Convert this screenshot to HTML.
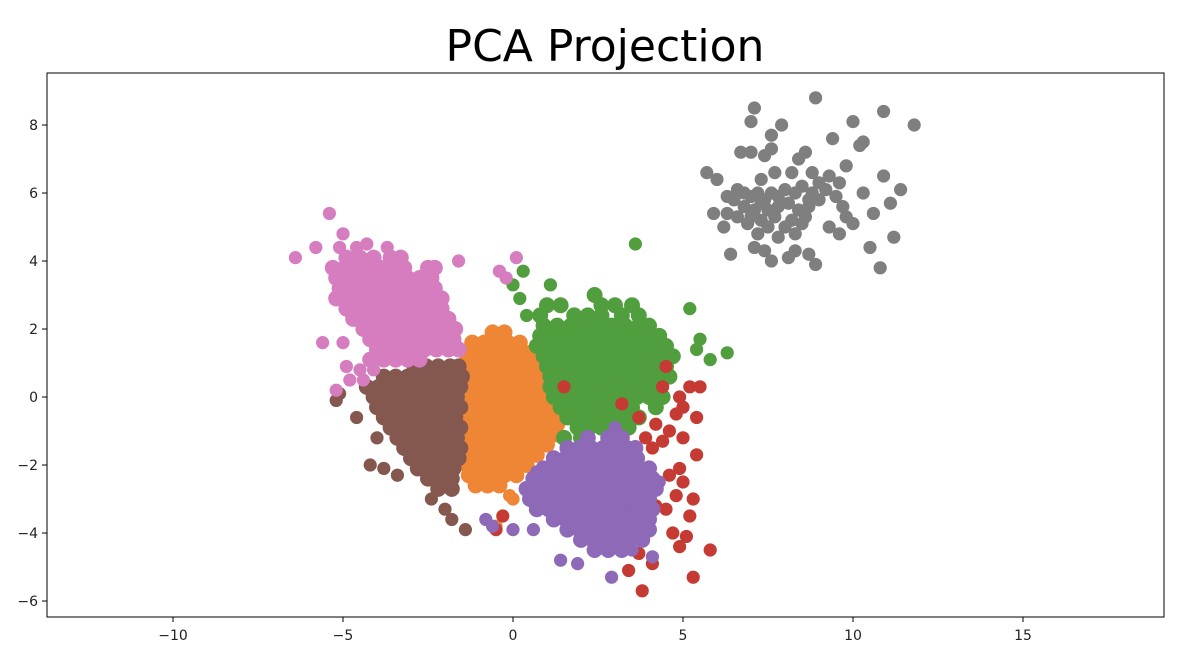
<!DOCTYPE html>
<html><head><meta charset="utf-8"><style>
body{margin:0;background:#fff;}
svg{display:block;font-family:"DejaVu Sans","Liberation Sans",sans-serif;}
</style></head><body>
<svg id="chart" width="1182" height="672" viewBox="0 0 1182 672">
<rect width="1182" height="672" fill="#fff"/>
<text x="605" y="61" font-size="44" text-anchor="middle" fill="#000">PCA Projection</text>
<g id="marks"></g>
<rect x="47" y="73" width="1117" height="544" fill="none" stroke="#000" stroke-width="1"/>
<g id="axes"></g>
</svg>
<script>
const xTicks=[-10,-5,0,5,10,15];
const yTicks=[-6,-4,-2,0,2,4,6,8];
const seriesNames=["orange","green","red","purple","brown","pink","gray"];
const seriesColors=["#EF8636","#519E3E","#C53A32","#8D69B8","#84584E","#D57DBF","#7F7F7F"];
function rowPts(y,xs){return xs.map(x=>[x,y]);}
const orangeCore=[].concat(
rowPts(1.9,[-0.6,-0.25]),rowPts(1.6,[-1.2,-0.85,-0.5,-0.15,0.2]),rowPts(1.3,[-1.3,-0.95,-0.6,-0.25,0.1,0.5]),
rowPts(1.0,[-1.4,-1.05,-0.7,-0.35,0,0.35,0.7]),rowPts(0.7,[-1.5,-1.15,-0.8,-0.45,-0.1,0.25,0.6,0.8]),
rowPts(0.4,[-1.45,-1.1,-0.75,-0.4,-0.05,0.3,0.65,0.9]),rowPts(0.1,[-1.5,-1.15,-0.8,-0.45,-0.1,0.25,0.6,0.9]),
rowPts(-0.2,[-1.5,-1.15,-0.8,-0.45,-0.1,0.25,0.6,0.95]),rowPts(-0.5,[-1.5,-1.15,-0.8,-0.45,-0.1,0.25,0.6,0.95,1.2]),
rowPts(-0.8,[-1.5,-1.15,-0.8,-0.45,-0.1,0.25,0.6,0.95,1.3]),rowPts(-1.1,[-1.5,-1.15,-0.8,-0.45,-0.1,0.25,0.6,0.95,1.3]),
rowPts(-1.4,[-1.45,-1.1,-0.75,-0.4,-0.05,0.3,0.65,1.0]),rowPts(-1.7,[-1.4,-1.05,-0.7,-0.35,0,0.35,0.7]),
rowPts(-2.0,[-1.35,-1.0,-0.65,-0.3,0.05,0.4]),rowPts(-2.3,[-1.3,-0.95,-0.6,-0.25,0.1]),rowPts(-2.6,[-1.1,-0.75,-0.4]));
const orangeOut=[[-0.1,-2.9],[0.0,-3.0],[-0.5,-3.8]];
const greenCore=[].concat(
rowPts(3.0,[2.4]),rowPts(2.7,[1.0,1.4,2.6,3.0,3.5]),rowPts(2.4,[0.8,1.8,2.2,2.6,3.2,3.7]),
rowPts(2.1,[0.9,1.3,1.7,2.1,2.5,2.9,3.3,3.7,4.0]),rowPts(1.8,[0.8,1.15,1.5,1.85,2.2,2.55,2.9,3.25,3.6,3.95,4.3]),
rowPts(1.5,[0.7,1.05,1.4,1.75,2.1,2.45,2.8,3.15,3.5,3.85,4.2,4.5]),rowPts(1.2,[0.9,1.25,1.6,1.95,2.3,2.65,3.0,3.35,3.7,4.05,4.4,4.7]),
rowPts(0.9,[1.0,1.35,1.7,2.05,2.4,2.75,3.1,3.45,3.8,4.15,4.5]),rowPts(0.6,[1.1,1.45,1.8,2.15,2.5,2.85,3.2,3.55,3.9,4.25,4.6]),
rowPts(0.3,[1.1,1.45,1.8,2.15,2.5,2.85,3.2,3.55,3.9,4.3]),rowPts(0.0,[1.2,1.55,1.9,2.25,2.6,2.95,3.3,3.65,4.0,4.4]),
rowPts(-0.3,[1.4,1.75,2.1,2.45,2.8,3.15,3.5,4.2]),rowPts(-0.6,[1.6,1.95,2.3,2.65,3.0,3.35,3.7]),
rowPts(-0.9,[1.9,2.25,2.6,3.0,3.4]),rowPts(-1.2,[1.5,2.0]));
const greenOut=[[3.6,4.5],[0.3,3.7],[0.0,3.3],[0.2,2.9],[0.4,2.4],[1.1,3.3],[5.2,2.6],[5.5,1.7],[6.3,1.3],[5.8,1.1],[5.4,1.4]];
const redCore=[];
const redOut=[[1.5,0.3],[4.5,0.9],[5.2,0.3],[5.5,0.3],[5.0,-0.3],[5.4,-0.6],[4.8,-0.5],[3.7,-0.6],[4.2,-0.8],[4.6,-1.0],[5.0,-1.2],[4.4,-1.3],[3.9,-1.2],[4.1,-1.5],[5.4,-1.7],[4.9,-2.1],[4.6,-2.3],[5.0,-2.5],[3.8,-2.3],[4.8,-2.9],[5.3,-3.0],[4.5,-3.3],[4.2,-3.2],[4.0,-3.6],[5.2,-3.5],[4.7,-4.0],[5.1,-4.1],[4.9,-4.4],[5.8,-4.5],[3.7,-4.6],[4.1,-4.9],[3.4,-5.1],[5.3,-5.3],[3.8,-5.7],[-0.3,-3.5],[-0.5,-3.9],[3.2,-0.2],[4.4,0.3],[4.9,0.0]];
const purpleCore=[].concat(
rowPts(-1.2,[2.2,2.8,3.2]),rowPts(-1.5,[1.6,1.95,2.3,2.65,3.0,3.35,3.6]),rowPts(-1.8,[1.2,1.55,1.9,2.25,2.6,2.95,3.3,3.65]),
rowPts(-2.1,[0.9,1.25,1.6,1.95,2.3,2.65,3.0,3.35,3.7,4.0]),rowPts(-2.4,[0.6,0.95,1.3,1.65,2.0,2.35,2.7,3.05,3.4,3.75,4.1]),
rowPts(-2.7,[0.4,0.75,1.1,1.45,1.8,2.15,2.5,2.85,3.2,3.55,3.9,4.2]),rowPts(-3.0,[0.5,0.85,1.2,1.55,1.9,2.25,2.6,2.95,3.3,3.65,4.0]),
rowPts(-3.3,[0.7,1.05,1.4,1.75,2.1,2.45,2.8,3.15,3.5,3.85,4.1]),rowPts(-3.6,[1.2,1.55,1.9,2.25,2.6,2.95,3.3,3.65,4.0]),
rowPts(-3.9,[1.6,1.95,2.3,2.65,3.0,3.35,3.7,4.0]),rowPts(-4.2,[2.0,2.35,2.7,3.05,3.4,3.8]),rowPts(-4.5,[2.4,2.8,3.2]));
const purpleOut=[[-0.8,-3.6],[-0.6,-3.8],[0.0,-3.9],[0.6,-3.9],[1.4,-4.8],[1.9,-4.9],[2.9,-5.3],[3.5,-4.5],[4.1,-4.7],[0.7,-2.2],[3.0,-0.9],[4.3,-2.5]];
const brownCore=[].concat(
rowPts(0.9,[-2.9,-2.55,-2.2,-1.85,-1.6]),rowPts(0.6,[-3.8,-3.45,-3.1,-2.75,-2.4,-2.05,-1.7,-1.5]),
rowPts(0.3,[-4.3,-3.95,-3.6,-3.25,-2.9,-2.55,-2.2,-1.85,-1.55]),rowPts(0.0,[-4.1,-3.75,-3.4,-3.05,-2.7,-2.35,-2.0,-1.65]),
rowPts(-0.3,[-4.0,-3.65,-3.3,-2.95,-2.6,-2.25,-1.9,-1.55]),rowPts(-0.6,[-3.8,-3.45,-3.1,-2.75,-2.4,-2.05,-1.7]),
rowPts(-0.9,[-3.6,-3.25,-2.9,-2.55,-2.2,-1.85,-1.55]),rowPts(-1.2,[-3.4,-3.05,-2.7,-2.35,-2.0,-1.65]),
rowPts(-1.5,[-3.2,-2.85,-2.5,-2.15,-1.8,-1.55]),rowPts(-1.8,[-3.0,-2.65,-2.3,-1.95,-1.6]),
rowPts(-2.1,[-2.8,-2.45,-2.1,-1.75]),rowPts(-2.4,[-2.5,-2.15,-1.8]),rowPts(-2.7,[-2.2,-1.8]));
const brownOut=[[-5.2,-0.1],[-5.1,0.1],[-4.6,-0.6],[-4.2,-2.0],[-3.8,-2.1],[-3.4,-2.3],[-2.4,-3.0],[-2.0,-3.3],[-1.8,-3.6],[-1.4,-3.9],[-4.0,-1.2]];
const pinkCore=[].concat(
rowPts(4.1,[-4.9,-4.5,-4.1,-3.6,-3.3]),rowPts(3.8,[-5.3,-4.95,-4.6,-4.25,-3.9,-3.55,-3.2,-2.5,-2.3]),
rowPts(3.5,[-5.2,-4.85,-4.5,-4.15,-3.8,-3.45,-3.1,-2.75,-2.4]),rowPts(3.2,[-5.1,-4.75,-4.4,-4.05,-3.7,-3.35,-3.0,-2.65,-2.3]),
rowPts(2.9,[-5.2,-4.85,-4.5,-4.15,-3.8,-3.45,-3.1,-2.75,-2.4,-2.1]),rowPts(2.6,[-4.9,-4.55,-4.2,-3.85,-3.5,-3.15,-2.8,-2.45,-2.1]),
rowPts(2.3,[-4.7,-4.35,-4.0,-3.65,-3.3,-2.95,-2.6,-2.25,-1.9]),rowPts(2.0,[-4.4,-4.05,-3.7,-3.35,-3.0,-2.65,-2.3,-1.95,-1.7]),
rowPts(1.7,[-4.2,-3.85,-3.5,-3.15,-2.8,-2.45,-2.1,-1.75]),rowPts(1.4,[-4.0,-3.65,-3.3,-2.95,-2.6,-2.25,-1.9,-1.6]),
rowPts(1.1,[-4.2,-3.8,-3.45,-3.1,-2.75]));
const pinkOut=[[-4.5,0.8],[-4.1,0.8],[-4.8,0.5],[-4.4,0.5],[-5.4,5.4],[-6.4,4.1],[-5.8,4.4],[-5.0,4.8],[-5.1,4.4],[-4.6,4.4],[-4.3,4.5],[-3.7,4.4],[-1.6,4.0],[-5.0,1.6],[-5.6,1.6],[-4.9,0.9],[0.1,4.1],[-0.4,3.7],[-0.2,3.5],[-5.2,0.2]];
const grayCore=[];
const grayOut=[[7.1,8.5],[8.9,8.8],[10.9,8.4],[11.8,8.0],[7.0,8.1],[7.6,7.7],[7.9,8.0],[10.0,8.1],[9.4,7.6],[10.3,7.5],[10.2,7.4],[6.7,7.2],[7.0,7.2],[7.4,7.1],[7.6,7.3],[8.4,7.0],[8.6,7.2],[9.8,6.8],[5.7,6.6],[6.0,6.4],[7.7,6.6],[8.2,6.6],[8.8,6.6],[9.3,6.5],[10.9,6.5],[11.4,6.1],[6.6,6.1],[6.8,6.0],[7.0,5.9],[7.2,6.0],[7.4,5.8],[7.6,6.0],[7.8,5.9],[8.0,6.1],[8.3,6.0],[8.5,6.2],[8.8,6.0],[9.0,6.3],[9.2,6.1],[9.5,5.9],[10.3,6.0],[6.5,5.8],[6.8,5.6],[7.1,5.5],[7.3,5.7],[7.5,5.5],[7.8,5.6],[8.1,5.7],[8.4,5.5],[8.7,5.6],[9.0,5.8],[5.9,5.4],[6.3,5.4],[6.6,5.3],[7.0,5.3],[7.3,5.2],[7.7,5.3],[8.2,5.2],[8.6,5.3],[9.8,5.3],[10.6,5.4],[11.1,5.7],[6.2,5.0],[6.9,5.1],[7.5,5.0],[8.0,5.0],[8.5,5.1],[9.3,5.0],[10.0,5.1],[7.2,4.8],[7.8,4.7],[8.3,4.8],[9.6,4.8],[11.2,4.7],[7.1,4.4],[7.4,4.3],[8.1,4.1],[8.3,4.3],[8.7,4.2],[8.9,3.9],[10.5,4.4],[10.8,3.8],[6.4,4.2],[7.6,4.0],[6.3,5.9],[7.3,6.4],[8.7,5.8],[9.6,6.3],[9.7,5.6]];
const coreSets=[orangeCore,greenCore,redCore,purpleCore,brownCore,pinkCore,grayCore];
const outSets=[orangeOut,greenOut,redOut,purpleOut,brownOut,pinkOut,grayOut];

const X0=-13.706,X1=19.147,Y0=-6.47,Y1=9.53;
const PL=47,PR=1164,PT=73,PB=617;
function sx(v){return PL+(v-X0)/(X1-X0)*(PR-PL);}
function sy(v){return PB-(v-Y0)/(Y1-Y0)*(PB-PT);}
const NS="http://www.w3.org/2000/svg";
const marks=document.getElementById('marks');
seriesNames.forEach((nm,i)=>{
  const g=document.createElementNS(NS,'g');
  
  
  g.setAttribute('fill',seriesColors[i]);
  const add=(p,r)=>{
    const c=document.createElementNS(NS,'circle');
    c.setAttribute('cx',sx(p[0]));c.setAttribute('cy',sy(p[1]));c.setAttribute('r',r);
    
    
    g.appendChild(c);
  };
  coreSets[i].forEach(p=>add(p,8));
  outSets[i].forEach(p=>add(p,6.6));
  marks.appendChild(g);
});
const axes=document.getElementById('axes');
xTicks.forEach(t=>{
  const x=sx(t);
  const l=document.createElementNS(NS,'line');
  l.setAttribute('x1',x);l.setAttribute('x2',x);l.setAttribute('y1',PB);l.setAttribute('y2',PB+5);l.setAttribute('stroke','#000');
  
  
  axes.appendChild(l);
  const tx=document.createElementNS(NS,'text');
  tx.setAttribute('x',x);tx.setAttribute('y',PB+23);tx.setAttribute('font-size','14');tx.setAttribute('text-anchor','middle');tx.setAttribute('fill','#222');
  tx.textContent=(t<0?'\u2212'+(-t):String(t));
  
  
  axes.appendChild(tx);
});
yTicks.forEach(t=>{
  const y=sy(t);
  const l=document.createElementNS(NS,'line');
  l.setAttribute('x1',PL-5);l.setAttribute('x2',PL);l.setAttribute('y1',y);l.setAttribute('y2',y);l.setAttribute('stroke','#000');
  
  
  axes.appendChild(l);
  const tx=document.createElementNS(NS,'text');
  tx.setAttribute('x',PL-9);tx.setAttribute('y',y+5);tx.setAttribute('font-size','14');tx.setAttribute('text-anchor','end');tx.setAttribute('fill','#222');
  tx.textContent=(t<0?'\u2212'+(-t):String(t));
  
  
  axes.appendChild(tx);
});
</script>
</body></html>
